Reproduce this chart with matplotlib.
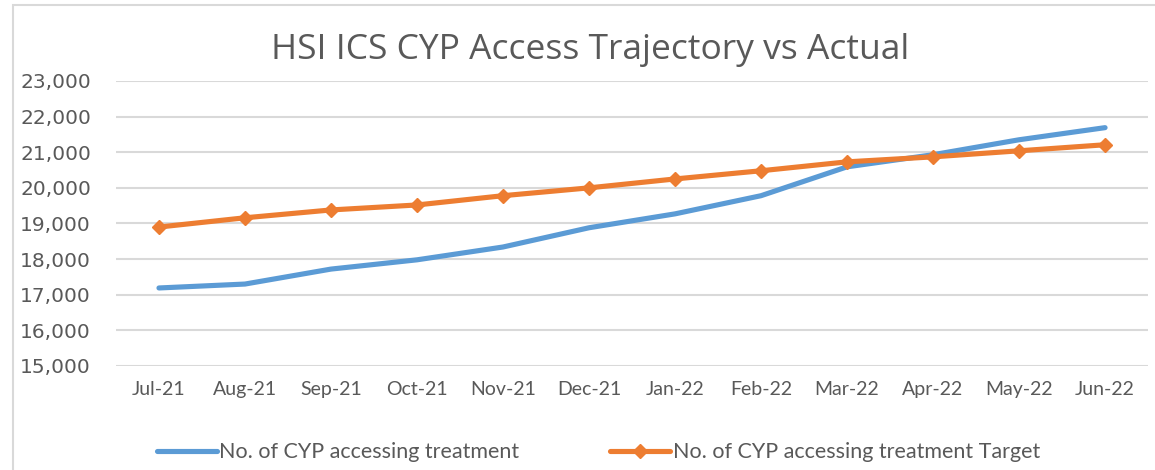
import matplotlib.pyplot as plt
from matplotlib.patches import Rectangle

months = ["Jul-21", "Aug-21", "Sep-21", "Oct-21", "Nov-21", "Dec-21",
          "Jan-22", "Feb-22", "Mar-22", "Apr-22", "May-22", "Jun-22"]
actual = [17190, 17300, 17720, 17980, 18340, 18880,
          19270, 19780, 20590, 20930, 21350, 21690]
target = [18900, 19160, 19380, 19520, 19780, 20000,
          20250, 20480, 20730, 20870, 21040, 21210]
yticks = list(range(15000, 23001, 1000))

blue = "#5B9BD5"
orange = "#ED7D31"
grey = "#595959"

fig = plt.figure(figsize=(11.55, 4.7), dpi=100)
ax = fig.add_axes([0.1004, 0.2213, 0.8936, 0.6064])

x = range(len(months))
ax.plot(x, actual, color=blue, lw=3.7, solid_capstyle="round",
        label="No. of CYP accessing treatment")
ax.plot(x, target, color=orange, lw=3.7, marker="D", markersize=7.5,
        solid_capstyle="round", label="No. of CYP accessing treatment Target")

ax.set_xlim(-0.5, len(months) - 0.5)
ax.set_ylim(15000, 23000)
ax.set_yticks(yticks)
ax.set_yticklabels([f"{v:,}" for v in yticks], fontsize=14.5, color=grey,
                   family="DejaVu Sans")
ax.set_xticks(list(x))
ax.set_xticklabels(months, fontsize=14, color=grey, family="Lato")
ax.tick_params(length=0)
ax.tick_params(axis="y", pad=18)
ax.tick_params(axis="x", pad=11)
ax.grid(axis="y", color="#d9d9d9", lw=1.5)
ax.set_axisbelow(True)
for s in ax.spines.values():
    s.set_visible(False)

fig.text(0.511, 0.894, "HSI ICS CYP Access Trajectory vs Actual", ha="center",
         va="center", fontsize=25.5, color=grey, family="Open Sans")

leg = fig.legend(loc="center", bbox_to_anchor=(0.518, 0.038), ncol=2,
                 frameon=False, prop={"family": "Lato", "size": 15.5},
                 handlelength=2.8, handletextpad=0.12, columnspacing=4.2)
for t in leg.get_texts():
    t.set_color(grey)

fig.patches.append(Rectangle((0.011, -0.01), 0.99, 1.0, transform=fig.transFigure,
                             fill=False, edgecolor="#d9d9d9", lw=1.5))

fig.savefig("out.png", dpi=100)
